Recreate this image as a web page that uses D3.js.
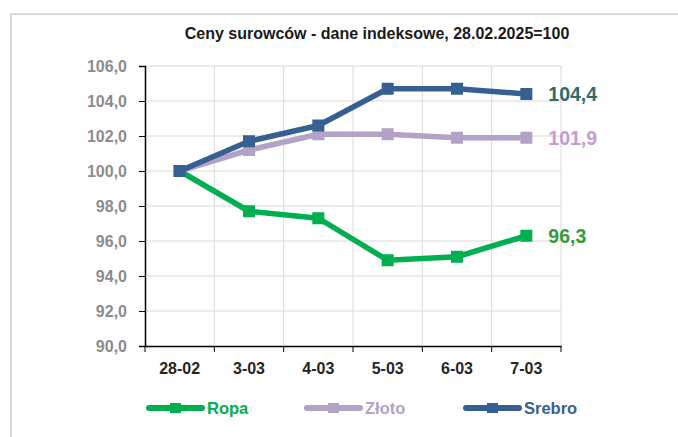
<!DOCTYPE html>
<html>
<head>
<meta charset="utf-8">
<script src="https://d3js.org/d3.v7.min.js"></script>
<style>
  body { margin: 0; background: #fff; }
  svg { font-family: "Liberation Sans", Arial, sans-serif; }
</style>
</head>
<body>
<div id="chart"></div>
<script>
// data
const categories = ["28-02", "3-03", "4-03", "5-03", "6-03", "7-03"];
const ropa   = [100.0, 97.7, 97.3, 94.9, 95.1, 96.3];
const zloto  = [100.0, 101.2, 102.1, 102.1, 101.9, 101.9];
const srebro = [100.0, 101.7, 102.6, 104.7, 104.7, 104.4];
const yTicks = [90, 92, 94, 96, 98, 100, 102, 104, 106];

const series = [
  { name: "Ropa",   values: ropa,   color: "#00b050", label: "#3a9a3a" },
  { name: "Złoto",  values: zloto,  color: "#b3a2c7", label: "#c59bd2" },
  { name: "Srebro", values: srebro, color: "#376092", label: "#2f6b6b" }
];

const width = 678, height = 437;
const svg = d3.select("#chart").append("svg")
  .attr("width", width).attr("height", height);

// outer frame
svg.append("rect")
  .attr("x", 11).attr("y", 14).attr("width", 680).attr("height", 440)
  .attr("fill", "#fff").attr("stroke", "#d9d9d9").attr("stroke-width", 2);

svg.append("text")
  .attr("x", 377).attr("y", 39)
  .attr("text-anchor", "middle")
  .attr("font-size", 16).attr("font-weight", "bold").attr("fill", "#1a1a1a")
  .text("Ceny surowców - dane indeksowe, 28.02.2025=100");

const x = d3.scaleBand().domain(categories).range([145, 561]);
const y = d3.scaleLinear().domain([90, 106]).range([346, 66]);

// grid
const grid = svg.append("g").attr("stroke", "#d9d9d9").attr("stroke-width", 1);
grid.selectAll(".h").data(yTicks.slice(1)).enter().append("line")
  .attr("x1", 145).attr("x2", 561)
  .attr("y1", d => y(d)).attr("y2", d => y(d));
grid.selectAll(".v").data(categories.slice(1).concat(["end"])).enter().append("line")
  .attr("x1", d => d === "end" ? 561 : x(d)).attr("x2", d => d === "end" ? 561 : x(d))
  .attr("y1", 66).attr("y2", 346);

// axes
const yAxis = svg.append("g").attr("transform", "translate(145,0)")
  .call(d3.axisLeft(y).tickValues(yTicks).tickSize(6).tickPadding(12)
    .tickFormat(d => d3.format(".1f")(d).replace(".", ",")));
yAxis.select(".domain").attr("stroke", "#000").attr("stroke-width", 1.5);
yAxis.selectAll(".tick line").attr("stroke", "#000");
yAxis.selectAll("text").attr("font-size", 16).attr("font-weight", "bold")
  .attr("fill", "#8c8c8c").attr("font-family", "inherit");

const xAxis = svg.append("g").attr("transform", "translate(0,346)")
  .call(d3.axisBottom(x).tickSize(0).tickPadding(17));
xAxis.select(".domain").attr("stroke", "#000").attr("stroke-width", 1.5);
xAxis.selectAll("text").attr("font-size", 16).attr("font-weight", "bold")
  .attr("fill", "#262626").attr("font-family", "inherit");
// tick marks at band edges
xAxis.selectAll(".edge").data(categories.concat(["end"])).enter().append("line")
  .attr("x1", d => d === "end" ? 561 : x(d)).attr("x2", d => d === "end" ? 561 : x(d))
  .attr("y1", 0).attr("y2", 6).attr("stroke", "#000");

const cx = d => x(d) + x.bandwidth() / 2;
const line = d3.line().x((d, i) => cx(categories[i])).y(d => y(d));

series.forEach(s => {
  const g = svg.append("g");
  g.append("path").datum(s.values)
    .attr("d", line).attr("fill", "none")
    .attr("stroke", s.color).attr("stroke-width", 5.5).attr("stroke-linejoin", "round");
  g.selectAll("rect").data(s.values).enter().append("rect")
    .attr("x", (d, i) => cx(categories[i]) - 6).attr("y", d => y(d) - 6)
    .attr("width", 12).attr("height", 12).attr("fill", s.color);
  const last = s.values[s.values.length - 1];
  g.append("text")
    .attr("x", cx(categories[categories.length - 1]) + 22).attr("y", y(last) + 7)
    .attr("font-size", 19.5).attr("font-weight", "bold").attr("fill", s.label)
    .text(d3.format(".1f")(last).replace(".", ","));
});

// legend
const legendX = [147, 305, 464];
series.forEach((s, i) => {
  const g = svg.append("g").attr("transform", `translate(${legendX[i]},408)`);
  g.append("line").attr("x1", 2).attr("x2", 55).attr("y1", 0).attr("y2", 0)
    .attr("stroke", s.color).attr("stroke-width", 6).attr("stroke-linecap", "round");
  g.append("rect").attr("x", 23).attr("y", -5).attr("width", 11).attr("height", 10)
    .attr("fill", s.color);
  g.append("text").attr("x", 60).attr("y", 6)
    .attr("font-size", 16.5).attr("font-weight", "bold").attr("fill", s.color)
    .text(s.name);
});
</script>
</body>
</html>
